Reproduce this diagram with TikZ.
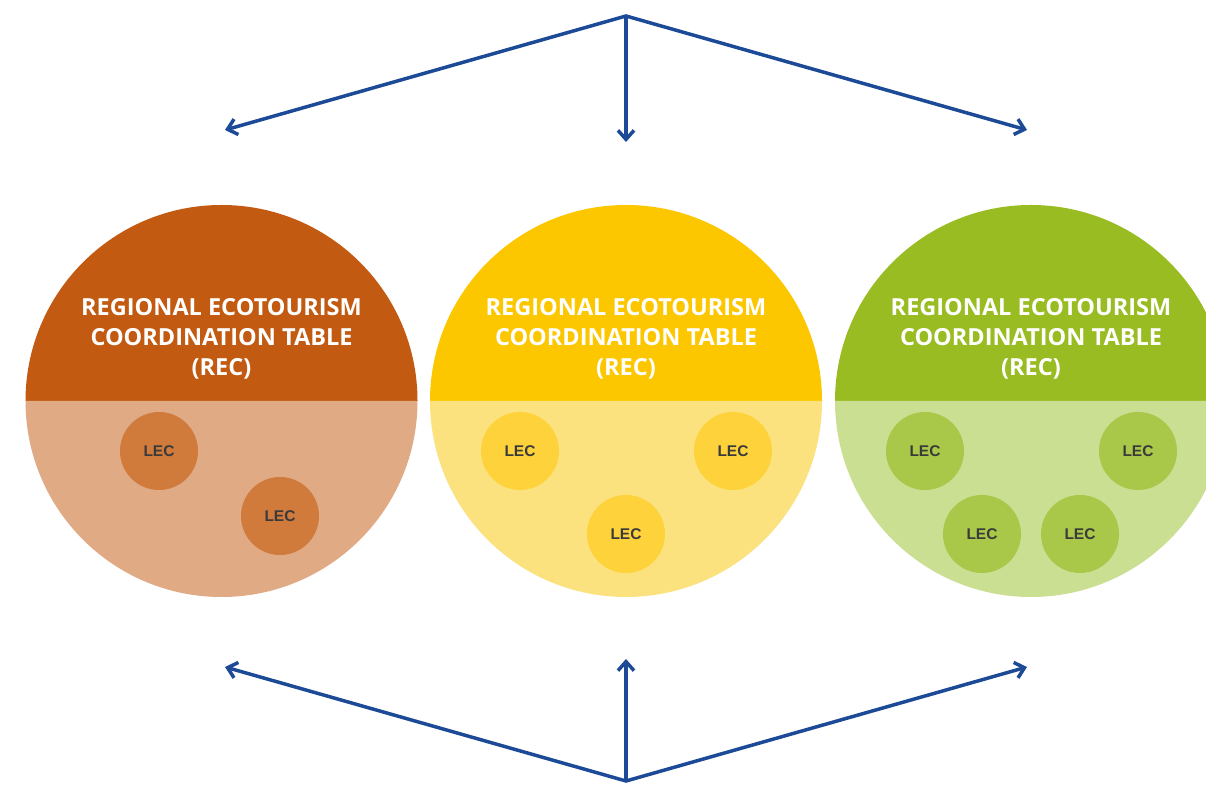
\documentclass[tikz,border=0pt]{standalone}
\usepackage{fontspec}
\setmainfont{Open Sans}
\newfontfamily\lecfont{Liberation Sans}
\usetikzlibrary{arrows.meta}
\definecolor{navy}{RGB}{28,74,150}
\definecolor{oTop}{RGB}{194,90,18}
\definecolor{oBot}{RGB}{224,170,133}
\definecolor{oLec}{RGB}{208,122,60}
\definecolor{yTop}{RGB}{253,199,0}
\definecolor{yBot}{RGB}{252,226,126}
\definecolor{yLec}{RGB}{253,210,58}
\definecolor{gTop}{RGB}{153,188,34}
\definecolor{gBot}{RGB}{202,223,146}
\definecolor{gLec}{RGB}{169,200,74}
\definecolor{lectext}{RGB}{58,58,58}
\tikzset{
  barb/.tip={Straight Barb[length=9pt,width=16pt,line width=3.5pt]},
  conn/.style={draw=navy, line width=3.5pt, line join=miter, -barb},
  lecnode/.style={circle, minimum size=78pt, inner sep=0pt, font=\lecfont\fontsize{15.5}{15.5}\selectfont\bfseries, text=lectext},
  rectitle/.style={align=center, text=white, font=\fontsize{23.5}{30}\selectfont\bfseries},
}
\newcommand{\halfdisc}[4]{% x y topcolor botcolor
  \fill[#3] (#1-196,#2) arc[start angle=180,end angle=0,radius=196] -- cycle;
  \fill[#4] (#1-196,#2) arc[start angle=180,end angle=360,radius=196] -- cycle;
}
\begin{document}
\begin{tikzpicture}[x=1pt,y=1pt]
\useasboundingbox (0,0) rectangle (1206,794);
\clip (0,0) rectangle (1206,794);
\fill[white] (0,0) rectangle (1206,794);
% circles
\halfdisc{221.5}{393}{oTop}{oBot}
\halfdisc{626}{393}{yTop}{yBot}
\halfdisc{1031}{393}{gTop}{gBot}
% titles
\node[rectitle] (t1) at (221.5,455) {REGIONAL ECOTOURISM\\COORDINATION TABLE\\(REC)};
\node[rectitle] (t2) at (626,455) {REGIONAL ECOTOURISM\\COORDINATION TABLE\\(REC)};
\node[rectitle] (t3) at (1031,455) {REGIONAL ECOTOURISM\\COORDINATION TABLE\\(REC)};
% LECs
\node[lecnode, fill=oLec] (l11) at (159,343) {LEC};
\node[lecnode, fill=oLec] (l12) at (280,278) {LEC};
\node[lecnode, fill=yLec] (l21) at (520,343) {LEC};
\node[lecnode, fill=yLec] (l22) at (733,343) {LEC};
\node[lecnode, fill=yLec] (l23) at (626,260) {LEC};
\node[lecnode, fill=gLec] (l31) at (925,343) {LEC};
\node[lecnode, fill=gLec] (l32) at (1138,343) {LEC};
\node[lecnode, fill=gLec] (l33) at (982,260) {LEC};
\node[lecnode, fill=gLec] (l34) at (1080,260) {LEC};
% arrows
\coordinate (topHub) at (626,778);
\coordinate (topL) at (225,664);
\coordinate (topM) at (626,652);
\coordinate (topR) at (1027,664);
\coordinate (botHub) at (626,13);
\coordinate (botL) at (225,127);
\coordinate (botM) at (626,135);
\coordinate (botR) at (1027,127);
\draw[conn, barb-barb] (topL) -- (topHub) -- (topR);
\draw[conn] (topHub) -- (topM);
\draw[conn, barb-barb] (botL) -- (botHub) -- (botR);
\draw[conn] (botHub) -- (botM);
\end{tikzpicture}
\end{document}
